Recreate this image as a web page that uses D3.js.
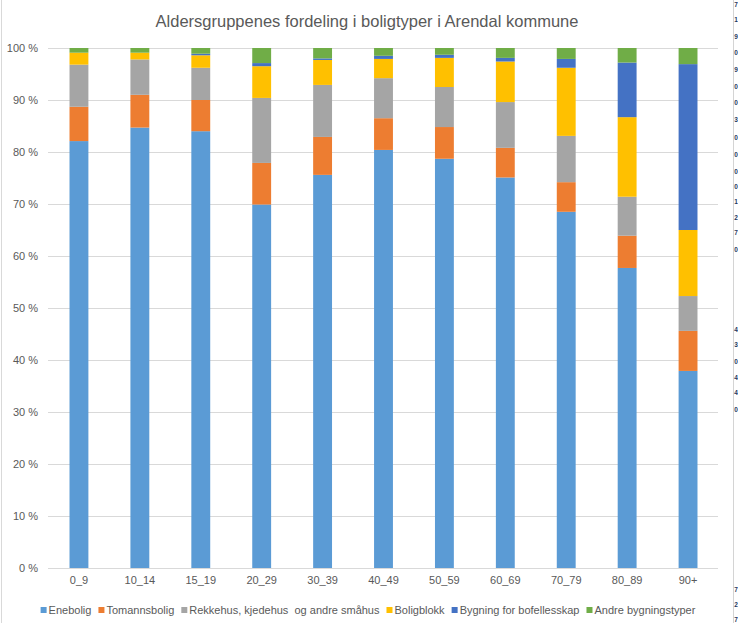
<!DOCTYPE html>
<html><head><meta charset="utf-8">
<script src="https://cdn.jsdelivr.net/npm/d3@7"></script>
<style>
html,body{margin:0;padding:0;background:#fff;overflow:hidden}
svg{display:block;font-family:"Liberation Sans",Arial,sans-serif}
</style></head>
<body>
<svg id="chart" width="738" height="623"></svg>
<script>
const title = "Aldersgruppenes fordeling i boligtyper i Arendal kommune";
const categories = ["0_9","10_14","15_19","20_29","30_39","40_49","50_59","60_69","70_79","80_89","90+"];
const seriesNames = ["Enebolig","Tomannsbolig","Rekkehus, kjedehus  og andre småhus","Boligblokk","Bygning for bofellesskap","Andre bygningstyper"];
const enebolig     = [82.1, 84.7, 84.0, 69.9, 75.6, 80.4, 78.7, 75.1, 68.5, 57.7, 37.9];
const tomannsbolig = [ 6.6,  6.3,  6.0,  8.0,  7.3,  6.1,  6.1,  5.7,  5.7,  6.2,  7.7];
const rekkehus     = [ 8.1,  6.8,  6.2, 12.5, 10.0,  7.7,  7.7,  8.8,  8.9,  7.5,  6.7];
const boligblokk   = [ 2.3,  1.3,  2.4,  6.1,  4.8,  3.7,  5.6,  7.8, 13.1, 15.3, 12.7];
const bofelles     = [ 0.0,  0.0,  0.3,  0.6,  0.3,  0.6,  0.6,  0.7,  1.7, 10.5, 31.9];
const andre        = [ 0.9,  0.9,  1.1,  2.9,  2.0,  1.5,  1.3,  1.9,  2.1,  2.8,  3.1];
const yTicks = [0,10,20,30,40,50,60,70,80,90,100];
const colors = ["#5B9BD5","#ED7D31","#A5A5A5","#FFC000","#4472C4","#70AD47"];
const sideChars = [["7",4],["1",19],["9",36],["0",52],["9",69],["0",86],["0",102],["3",119],["0",137],["0",154],["0",171],["0",186],["1",201],["2",217],["7",232],["0",249],
  ["4",329],["3",344],["0",361],["4",377],["4",392],["0",409],["7",589],["2",604],["7",619]];

const seriesVals = [enebolig,tomannsbolig,rekkehus,boligblokk,bofelles,andre];
const rows = categories.map((c,i)=>{const r={cat:c}; seriesNames.forEach((s,j)=>r[s]=seriesVals[j][i]); return r;});
const stacked = d3.stack().keys(seriesNames)(rows);

const svg = d3.select("#chart");
const textCol = "#595959";

// frame
svg.append("line").attr("x1",1.5).attr("x2",1.5).attr("y1",0).attr("y2",623).attr("stroke","#d9d9d9");
svg.append("line").attr("x1",733.5).attr("x2",733.5).attr("y1",0).attr("y2",623).attr("stroke","#d4d4d4");
svg.append("g").selectAll("text").data(sideChars).join("text")
  .attr("x",734.2).attr("y",d=>d[1]+3).attr("font-size",6.5).attr("font-weight","bold").attr("fill","#1f3a60").text(d=>d[0]);

const x = d3.scaleBand().domain(categories).range([48.5,718.5]).paddingInner(0.69).paddingOuter(0.345);
const y = d3.scaleLinear().domain([0,100]).range([568,48]);

// grid
svg.append("g").selectAll("line").data(yTicks).join("line")
  .attr("x1",48).attr("x2",718).attr("y1",d=>Math.round(y(d))+0.5).attr("y2",d=>Math.round(y(d))+0.5)
  .attr("stroke","#d9d9d9").attr("stroke-width",1);

// y axis labels
const yAxis = d3.axisLeft(y).tickValues(yTicks).tickSize(0).tickPadding(0).tickFormat(d=>d+" %");
const yg = svg.append("g").attr("transform","translate(38,0)").call(yAxis);
yg.select(".domain").remove();
yg.selectAll("text").attr("fill",textCol).attr("font-size",11).attr("font-family","Liberation Sans, Arial, sans-serif");

// bars
svg.append("g").selectAll("g").data(stacked).join("g").attr("fill",(d,i)=>colors[i])
  .selectAll("rect").data(d=>d).join("rect")
  .attr("x",d=>x(d.data.cat)).attr("width",x.bandwidth())
  .attr("y",d=>y(d[1])).attr("height",d=>Math.max(0,y(d[0])-y(d[1])));

// x axis
const xAxis = d3.axisBottom(x).tickSize(0).tickPadding(0);
const xg = svg.append("g").attr("transform","translate(0,576)").call(xAxis);
xg.select(".domain").remove();
xg.selectAll("text").attr("fill",textCol).attr("font-size",11).attr("font-family","Liberation Sans, Arial, sans-serif").attr("dy","0.71em");
svg.append("line").attr("x1",48).attr("x2",718).attr("y1",568.5).attr("y2",568.5).attr("stroke","#d9d9d9");

// title
svg.append("text").attr("x",367).attr("y",27).attr("text-anchor","middle").attr("font-size",16.5)
  .attr("fill",textCol).text(title);

// legend
const lg = svg.append("g");
const items = lg.selectAll("g").data(seriesNames).join("g");
items.append("rect").attr("width",6).attr("height",6).attr("y",607).attr("fill",(d,i)=>colors[i]);
items.append("text").attr("x",8).attr("y",614).attr("font-size",11).attr("fill",textCol)
  .attr("xml:space","preserve").text(d=>d);
let cx = 0; const gap = 7; const pos=[];
items.each(function(){ const w = d3.select(this).select("text").node().getComputedTextLength(); pos.push(cx); cx += 8 + w + gap; });
const total = cx - gap; const start = 368 - total/2;
items.attr("transform",(d,i)=>`translate(${start+pos[i]},0)`);
</script>
</body></html>
